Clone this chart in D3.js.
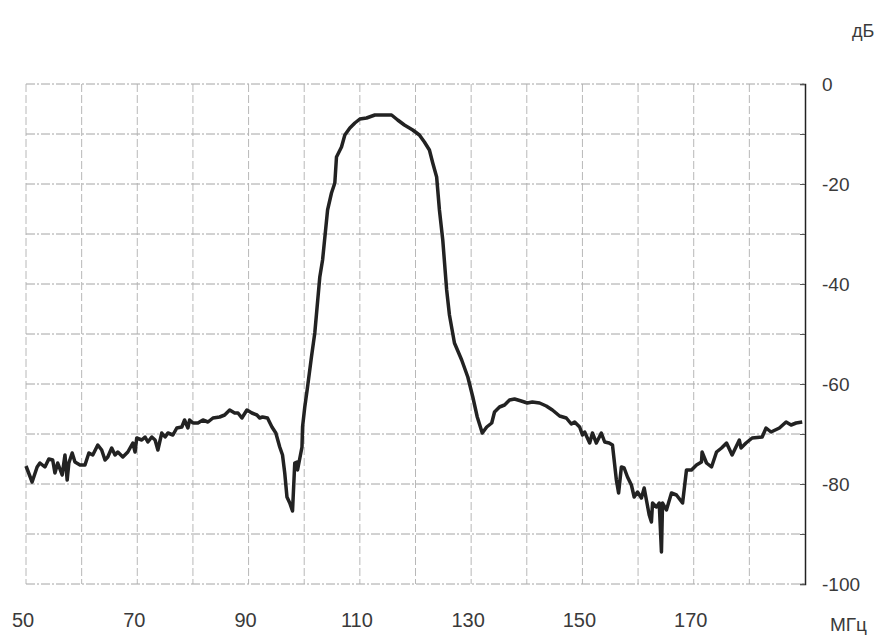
<!DOCTYPE html>
<html>
<head>
<meta charset="utf-8">
<script src="https://cdn.jsdelivr.net/npm/d3@7"></script>
<style>
  html, body { margin: 0; padding: 0; background: #fff; }
  svg { display: block; }
  text { font-family: "Liberation Sans", Arial, sans-serif; fill: #3a3a3a; }
</style>
</head>
<body>
<svg id="chart" width="886" height="635"></svg>
<script>
// Frequency (MHz) and level (dB)
const freqMHz = [50,51.1,52.0,52.5,53.4,54.1,54.8,55.2,55.7,56.5,57.0,57.4,57.7,58.3,58.8,59.7,60.6,61.3,62.0,62.9,63.6,64.2,64.7,65.4,66.0,66.5,67.4,68.3,69.2,69.6,69.9,70.8,71.4,71.9,72.6,73.2,73.7,74.4,75.0,75.5,76.4,77.1,78.0,78.5,79.1,79.4,80.0,80.9,81.8,82.7,83.6,84.8,85.7,86.6,87.5,88.1,88.8,89.7,90.6,91.5,92.0,92.5,93.4,94.2,94.9,95.6,96.1,96.5,96.9,97.4,97.9,98.3,98.7,98.8,99.6,99.7,100.1,100.6,101.3,101.9,102.8,103.3,104.2,104.9,105.5,105.8,106.7,107.3,108.2,109.1,110.0,111.2,112.7,115.7,116.8,118.0,119.5,120.7,121.6,122.5,123.1,123.8,124.3,124.9,125.6,126.1,127.0,128.3,129.4,130.3,131.1,132.0,132.8,133.7,134.2,135.1,136.0,136.9,137.8,139.0,140.1,141.0,142.3,143.5,144.6,145.9,147.1,148.0,148.6,149.5,150.0,150.4,151.3,151.8,152.5,153.4,154.0,154.8,155.4,156.1,156.5,157.0,157.5,158.1,158.8,159.3,159.9,160.6,161.1,161.5,162.0,162.4,162.6,163.3,163.8,164.2,164.4,165.1,166.0,166.9,168.0,168.7,169.6,170.5,171.4,171.5,172.3,173.2,174.1,175.0,175.9,176.9,178.2,178.5,179.4,180.5,182.3,183.0,183.9,185.4,186.6,187.5,188.4,189.5];
const levelDb = [-76.4,-79.6,-76.6,-75.8,-76.6,-75.0,-75.2,-77.8,-75.8,-78.2,-74.2,-79.2,-75.8,-73.8,-75.6,-76.2,-76.2,-73.8,-74.2,-72.2,-73.2,-75.2,-74.6,-72.8,-74.2,-73.6,-74.6,-73.6,-71.8,-73.6,-70.8,-71.2,-70.6,-71.6,-70.6,-71.2,-73.2,-69.8,-70.6,-69.8,-70.2,-68.8,-68.6,-67.2,-68.8,-67.2,-67.8,-67.8,-67.2,-67.6,-66.8,-66.6,-66.2,-65.2,-65.8,-65.8,-66.8,-65.2,-65.8,-66.2,-66.8,-66.6,-66.8,-68.6,-69.8,-72.6,-74.2,-77.8,-82.6,-83.8,-85.4,-75.8,-75.6,-77.2,-72.6,-68.6,-64.6,-60.6,-54.6,-49.8,-38.6,-35.2,-25.2,-21.8,-19.8,-14.6,-12.6,-10.2,-8.8,-7.8,-7.0,-6.8,-6.2,-6.2,-7.2,-8.2,-9.2,-10.2,-11.6,-13.2,-15.8,-18.6,-25.2,-31.2,-41.2,-46.2,-51.8,-55.2,-58.6,-62.6,-66.6,-69.8,-68.6,-67.8,-65.6,-64.6,-64.2,-63.2,-63.0,-63.4,-63.8,-63.6,-63.8,-64.4,-65.2,-66.4,-66.8,-68.0,-67.6,-68.6,-70.2,-69.6,-71.8,-69.8,-71.8,-69.8,-71.6,-71.8,-72.2,-79.2,-81.8,-76.6,-76.8,-78.6,-80.2,-82.6,-81.6,-82.8,-80.8,-83.2,-86.2,-87.6,-83.8,-84.6,-83.8,-93.6,-83.8,-85.2,-81.8,-82.2,-83.8,-77.2,-77.2,-76.2,-75.6,-73.6,-75.8,-76.6,-73.6,-72.8,-71.8,-74.2,-71.2,-72.8,-71.8,-70.8,-70.6,-68.8,-69.6,-68.8,-67.6,-68.2,-67.8,-67.6];

const xTickLabels = [50, 70, 90, 110, 130, 150, 170];
const xGridValues = [50, 60, 70, 80, 90, 100, 110, 120, 130, 140, 150, 160, 170, 180];
const yTickLabels = [0, -20, -40, -60, -80, -100];
const yGridValues = [0, -10, -20, -30, -40, -50, -60, -70, -80, -90, -100];
const yUnit = "дБ";
const xUnit = "МГц";

const svg = d3.select("#chart");
const x = d3.scaleLinear().domain([50, 190]).range([26, 805]);
const y = d3.scaleLinear().domain([0, -100]).range([84, 584]);

// grid
const grid = svg.append("g");
grid.selectAll("line.h").data(yGridValues).enter().append("line")
  .attr("x1", x(50)).attr("x2", x(190))
  .attr("y1", d => y(d)).attr("y2", d => y(d))
  .attr("stroke", "#9a9a9a").attr("stroke-width", 0.9)
  .attr("stroke-dasharray", "9,2,2,2");
grid.selectAll("line.v").data(xGridValues).enter().append("line")
  .attr("x1", d => x(d)).attr("x2", d => x(d))
  .attr("y1", y(0)).attr("y2", y(-100))
  .attr("stroke", "#b0b0b0").attr("stroke-width", 0.9)
  .attr("stroke-dasharray", "8,3");

// right axis
const axisR = d3.axisLeft(y).tickValues(yGridValues).tickSize(5).tickFormat("");
const gAxis = svg.append("g").attr("transform", `translate(${x(190)},0)`).call(axisR);
gAxis.select(".domain").attr("stroke", "#222").attr("stroke-width", 1.5);
gAxis.selectAll(".tick line").attr("stroke", "#555");

svg.append("g").selectAll("text").data(yTickLabels).enter().append("text")
  .attr("x", x(190) + 17).attr("y", d => y(d))
  .attr("dominant-baseline", "central")
  .attr("font-size", 19)
  .text(d => d === 0 ? "0" : "-" + Math.abs(d));

svg.append("g").selectAll("text").data(xTickLabels).enter().append("text")
  .attr("x", d => x(d) - 3).attr("y", 627)
  .attr("text-anchor", "middle")
  .attr("font-size", 20)
  .text(d => d);

svg.append("text").attr("x", 852).attr("y", 37).attr("font-size", 18).text(yUnit);
svg.append("text").attr("x", 830).attr("y", 631).attr("font-size", 19).text(xUnit);

// curve
const pts = freqMHz.map((f, i) => [f, levelDb[i]]);
svg.append("path").datum(pts)
  .attr("fill", "none")
  .attr("stroke", "#222")
  .attr("stroke-width", 3.5)
  .attr("stroke-linejoin", "round")
  .attr("d", d3.line().x(d => x(d[0])).y(d => y(d[1])));
</script>
</body>
</html>
